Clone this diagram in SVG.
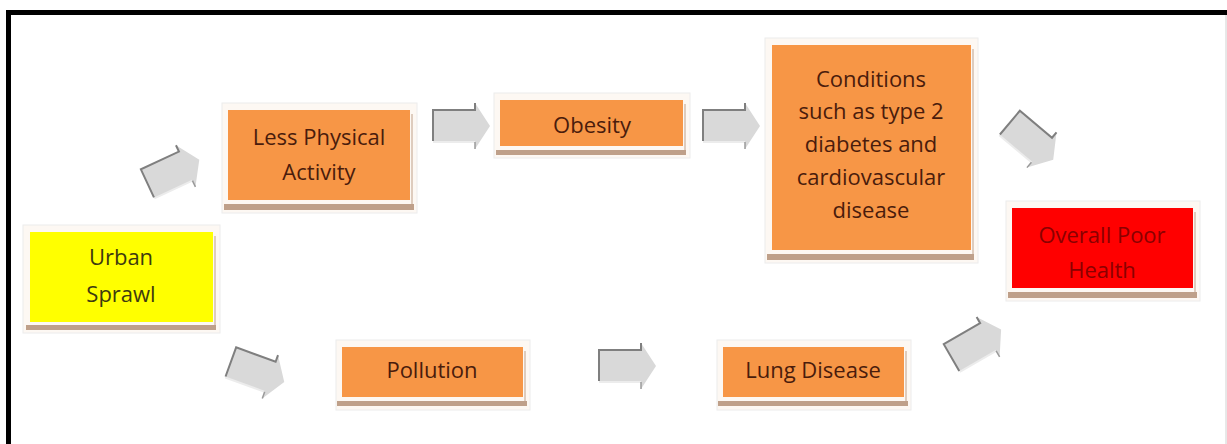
<svg xmlns="http://www.w3.org/2000/svg" width="1227" height="444" viewBox="0 0 1227 444">
<style>
  .glow { fill: #fdf8f3; stroke: #ececec; stroke-width: 1; }
  .shadow { fill: #bfa08a; }
  .orange { fill: #f79646; }
  .yellow { fill: #ffff00; }
  .red { fill: #ff0000; }
  text { font-family: "Open Sans", "Liberation Sans", sans-serif; font-size: 22px; font-weight: 500; text-anchor: middle; }
  .t { fill: #4a1c0c; }
  .ty { fill: #3e3a10; }
  .tr { fill: #8a0000; }
</style>
<defs>
  <g id="arrow">
    <path d="M -28 -16 L 14 -16 L 14 -23 L 29 0 L 14 23 L 14 16 L -28 16 Z" fill="#d9d9d9"/>
    <path d="M -28 16 L 14 16" stroke="#ececec" stroke-width="2" fill="none"/>
    <path d="M -28 15 L -28 -16 L 14 -16 L 14 -23" stroke="#7f7f7f" stroke-width="2" fill="none"/>
    <path d="M 14 16 L 14 23" stroke="#9a9a9a" stroke-width="1.5" fill="none"/>
  </g>
</defs>
<rect width="1227" height="444" fill="#ffffff"/>
<path d="M 8.5 444 L 8.5 12.5 L 1227 12.5" fill="none" stroke="#000000" stroke-width="5"/>
<line x1="1226" y1="15" x2="1226" y2="444" stroke="#d0d0d0" stroke-width="1"/>

<g id="connectors">
  <use href="#arrow" transform="translate(173 172) rotate(-25)"/>
  <use href="#arrow" transform="translate(461 126)"/>
  <use href="#arrow" transform="translate(731 126)"/>
  <use href="#arrow" transform="translate(1031 141) rotate(40)"/>
  <use href="#arrow" transform="translate(257 372) rotate(20)"/>
  <use href="#arrow" transform="translate(627 366)"/>
  <use href="#arrow" transform="translate(976 344) rotate(-30)"/>
</g>

<g id="node-urban">
  <rect class="glow" x="23" y="225" width="197" height="108"/>
  <rect class="shadow" x="26" y="325" width="190" height="5"/>
  <rect class="shadow" x="214" y="236" width="2" height="91" opacity="0.5"/>
  <rect class="yellow" x="30" y="232" width="183" height="90"/>
  <text class="ty" x="121" y="265">Urban</text>
  <text class="ty" x="121" y="302">Sprawl</text>
</g>

<g id="node-lpa">
  <rect class="glow" x="222" y="103" width="195" height="110"/>
  <rect class="shadow" x="224" y="204" width="190" height="6"/>
  <rect class="shadow" x="411" y="114" width="2" height="92" opacity="0.5"/>
  <rect class="orange" x="228" y="110" width="182" height="90"/>
  <text class="t" x="319" y="145">Less Physical</text>
  <text class="t" x="319" y="180">Activity</text>
</g>

<g id="node-obesity">
  <rect class="glow" x="494" y="93" width="196" height="65"/>
  <rect class="shadow" x="496" y="150" width="190" height="5"/>
  <rect class="shadow" x="684" y="104" width="2" height="48" opacity="0.5"/>
  <rect class="orange" x="500" y="100" width="183" height="46"/>
  <text class="t" x="592" y="133">Obesity</text>
</g>

<g id="node-conditions">
  <rect class="glow" x="765" y="38" width="213" height="225"/>
  <rect class="shadow" x="767" y="254" width="207" height="6"/>
  <rect class="shadow" x="972" y="49" width="2" height="207" opacity="0.5"/>
  <rect class="orange" x="772" y="45" width="199" height="205"/>
  <text class="t" x="871" y="87">Conditions</text>
  <text class="t" x="871" y="119">such as type 2</text>
  <text class="t" x="871" y="152">diabetes and</text>
  <text class="t" x="871" y="185">cardiovascular</text>
  <text class="t" x="871" y="218">disease</text>
</g>

<g id="node-overall">
  <rect class="glow" x="1006" y="201" width="194" height="100"/>
  <rect class="shadow" x="1008" y="292" width="189" height="6"/>
  <rect class="shadow" x="1194" y="212" width="2" height="82" opacity="0.5"/>
  <rect class="red" x="1012" y="208" width="181" height="80"/>
  <text class="tr" x="1102" y="243">Overall Poor</text>
  <text class="tr" x="1102" y="278">Health</text>
</g>

<g id="node-pollution">
  <rect class="glow" x="336" y="340" width="194" height="70"/>
  <rect class="shadow" x="337" y="401" width="190" height="5"/>
  <rect class="shadow" x="524" y="351" width="2" height="52" opacity="0.5"/>
  <rect class="orange" x="342" y="347" width="181" height="50"/>
  <text class="t" x="432" y="378">Pollution</text>
</g>

<g id="node-lung">
  <rect class="glow" x="717" y="340" width="194" height="70"/>
  <rect class="shadow" x="718" y="401" width="190" height="5"/>
  <rect class="shadow" x="905" y="351" width="2" height="52" opacity="0.5"/>
  <rect class="orange" x="723" y="347" width="181" height="50"/>
  <text class="t" x="813" y="378">Lung Disease</text>
</g>
</svg>
